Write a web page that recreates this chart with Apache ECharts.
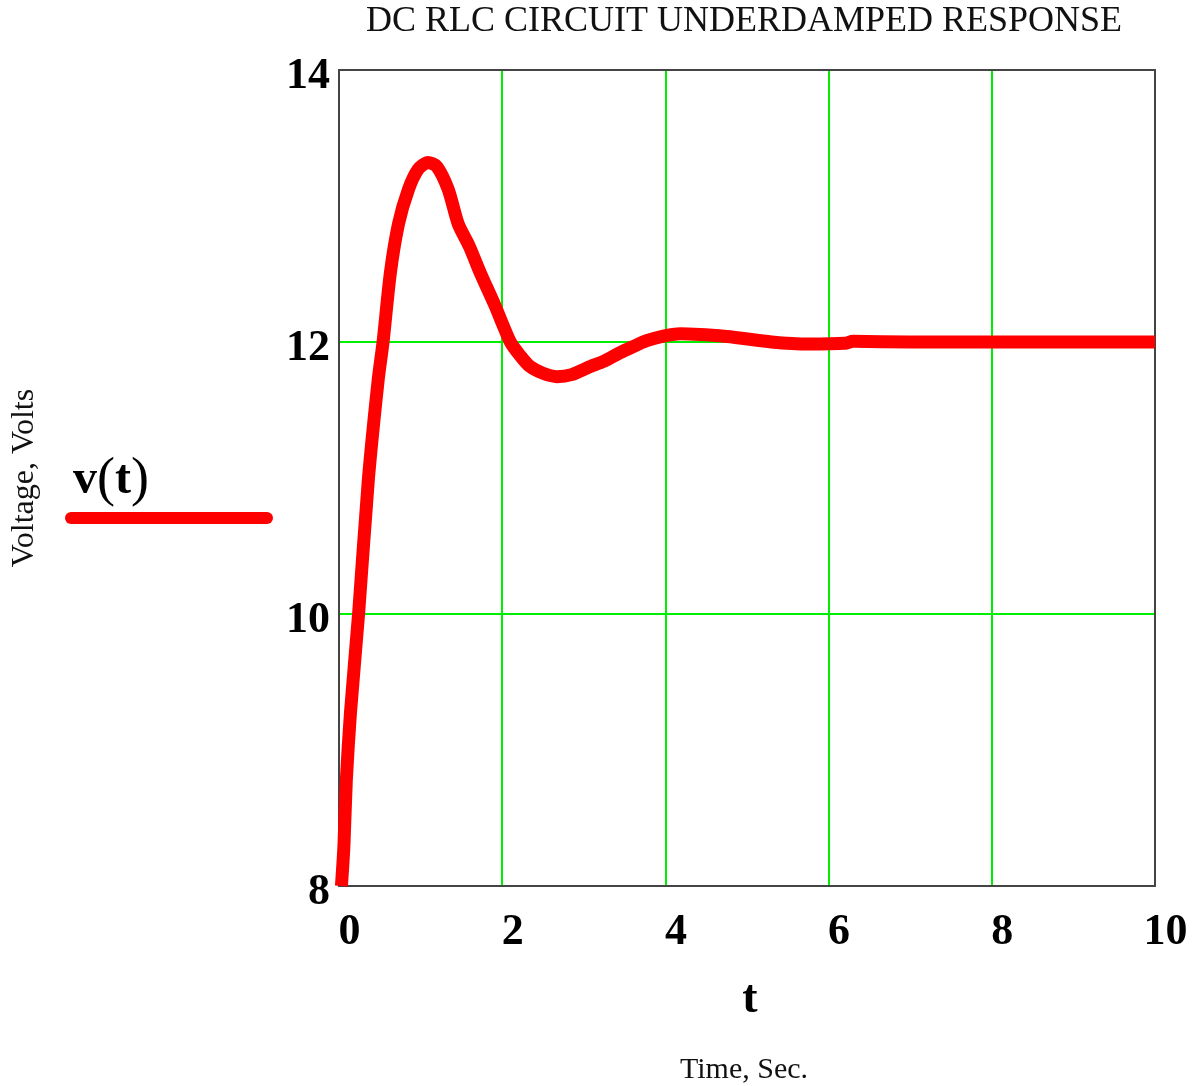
<!DOCTYPE html>
<html>
<head>
<meta charset="utf-8">
<script src="https://cdn.jsdelivr.net/npm/echarts@6/dist/echarts.min.js"></script>
<style>
html,body{margin:0;padding:0;background:#fff;}
#chart{width:1195px;height:1086px;}
</style>
</head>
<body>
<div id="chart"></div>
<script>
// Data
var timeValues = [0.03, 0.06, 0.09, 0.14, 0.24, 0.36, 0.48, 0.54, 0.63, 0.73, 0.85, 0.97, 1.09, 1.2, 1.34, 1.46, 1.6, 1.73, 1.91, 2.1, 2.22, 2.34, 2.5, 2.67, 2.85, 3.08, 3.25, 3.44, 3.6, 3.77, 3.95, 4.18, 4.75, 5.3, 5.75, 6.2, 6.3, 7, 8, 9, 10];
var voltageValues = [8.0, 8.29, 8.78, 9.27, 10.0, 10.99, 11.72, 12.0, 12.51, 12.87, 13.12, 13.27, 13.32, 13.29, 13.12, 12.87, 12.7, 12.51, 12.27, 12.0, 11.9, 11.82, 11.77, 11.745, 11.76, 11.82, 11.86, 11.92, 11.965, 12.01, 12.04, 12.06, 12.04, 12.0, 11.985, 11.99, 12.005, 12.0, 12.0, 12.0, 12.0];
var xTicks = {min: 0, max: 10, step: 2};
var yTicks = {min: 8, max: 14, step: 2};
var titleText = 'DC RLC CIRCUIT UNDERDAMPED RESPONSE';
var xAxisName = 't';
var xAxisCaption = 'Time, Sec.';
var yAxisCaption = 'Voltage, Volts';
var seriesName = 'v(t)';

var serif = 'Liberation Serif, Times New Roman, serif';
var seriesData = timeValues.map(function (t, i) { return [t, voltageValues[i]]; });

var chart = echarts.init(document.getElementById('chart'), null, {renderer: 'canvas'});
var gridColor = '#00ee00';
var borderColor = '#444444';

var labelStyle = {fontFamily: serif, fontWeight: 'bold', fontSize: 44, color: '#000'};

chart.setOption({
  animation: false,
  backgroundColor: '#ffffff',
  grid: {left: 339, top: 70, width: 816, height: 816, containLabel: false},
  xAxis: [{
    type: 'value', min: xTicks.min, max: xTicks.max, interval: xTicks.step, position: 'bottom',
    axisLine: {show: true, onZero: false, lineStyle: {color: borderColor, width: 2}},
    axisTick: {show: false},
    splitLine: {show: true, showMinLine: false, showMaxLine: false, lineStyle: {color: gridColor, width: 2}},
    axisLabel: Object.assign({margin: 25, padding: [0, 0, 0, 21]}, labelStyle)
  }, {
    type: 'value', min: xTicks.min, max: xTicks.max, interval: xTicks.step, position: 'top',
    axisLine: {show: true, onZero: false, lineStyle: {color: borderColor, width: 2}},
    axisTick: {show: false}, axisLabel: {show: false}, splitLine: {show: false}
  }],
  yAxis: [{
    type: 'value', min: yTicks.min, max: yTicks.max, interval: yTicks.step, position: 'left',
    axisLine: {show: true, onZero: false, lineStyle: {color: borderColor, width: 2}},
    axisTick: {show: false},
    splitLine: {show: true, showMinLine: false, showMaxLine: false, lineStyle: {color: gridColor, width: 2}},
    axisLabel: Object.assign({margin: 9, verticalAlign: 'top', lineHeight: 14}, labelStyle)
  }, {
    type: 'value', min: yTicks.min, max: yTicks.max, interval: yTicks.step, position: 'right',
    axisLine: {show: true, onZero: false, lineStyle: {color: borderColor, width: 2}},
    axisTick: {show: false}, axisLabel: {show: false}, splitLine: {show: false}
  }],
  series: [{
    name: seriesName,
    type: 'line',
    xAxisIndex: 0, yAxisIndex: 0,
    data: seriesData,
    showSymbol: false,
    smooth: 0.25,
    clip: true,
    z: 5,
    lineStyle: {color: '#ff0000', width: 13, join: 'round'}
  }],
  graphic: [
    {type: 'text', x: 744, y: 22, style: {text: titleText, font: 'normal 36px ' + serif, fill: '#111', align: 'center', verticalAlign: 'middle'}},
    {type: 'text', x: 25, y: 478, rotation: Math.PI / 2, style: {text: yAxisCaption, font: 'normal 32px ' + serif, fill: '#111', align: 'center', verticalAlign: 'middle'}},
    {type: 'text', x: 750, y: 1000, style: {text: xAxisName, font: 'bold 46px ' + serif, fill: '#000', align: 'center', verticalAlign: 'middle'}},
    {type: 'text', x: 744, y: 1070, style: {text: xAxisCaption, font: 'normal 30px ' + serif, fill: '#111', align: 'center', verticalAlign: 'middle'}},
    {type: 'text', x: 73, y: 481, style: {
      text: '{b|v}{p|(}{b|t}{p|)}',
      verticalAlign: 'middle', align: 'left',
      rich: {
        b: {fontFamily: serif, fontWeight: 'bold', fontSize: 48, fill: '#000', color: '#000'},
        p: {fontFamily: serif, fontWeight: 'normal', fontSize: 54, fill: '#000', color: '#000'}
      }
    }},
    {type: 'line', shape: {x1: 71, y1: 518, x2: 267, y2: 518}, style: {stroke: '#ff0000', lineWidth: 12, lineCap: 'round'}}
  ]
});
</script>
</body>
</html>
